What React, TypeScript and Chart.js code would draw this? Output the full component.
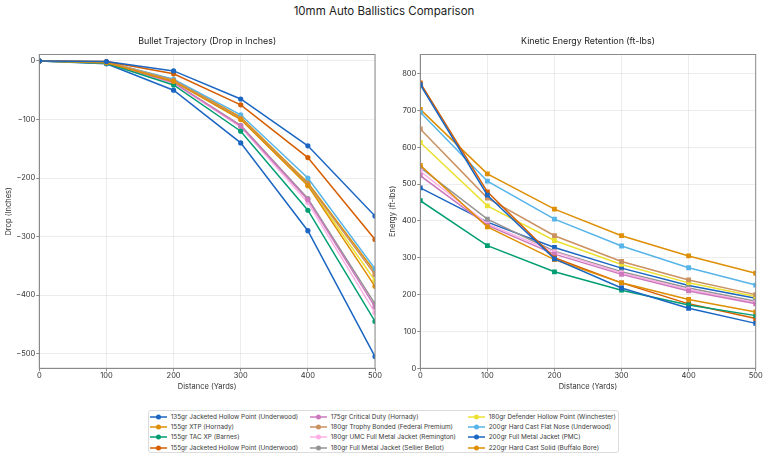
import React, { useEffect, useRef } from 'react';
import { Chart, registerables } from 'chart.js';

Chart.register(...registerables);

const FONT = 'Inter, "Noto Sans", sans-serif';

const distances = [0, 100, 200, 300, 400, 500];

const loadNames = [
  '135gr Jacketed Hollow Point (Underwood)',
  '155gr XTP (Hornady)',
  '155gr TAC XP (Barnes)',
  '155gr Jacketed Hollow Point (Underwood)',
  '175gr Critical Duty (Hornady)',
  '180gr Trophy Bonded (Federal Premium)',
  '180gr UMC Full Metal Jacket (Remington)',
  '180gr Full Metal Jacket (Sellier Bellot)',
  '180gr Defender Hollow Point (Winchester)',
  '200gr Hard Cast Flat Nose (Underwood)',
  '200gr Full Metal Jacket (PMC)',
  '220gr Hard Cast Solid (Buffalo Bore)',
];

const loadColors = [
  '#1a66c2', '#de8f05', '#029e73', '#d55e00', '#cc78bc', '#ca9161',
  '#fbafe4', '#949494', '#ece133', '#56b4e9', '#1a66c2', '#de8f05',
];

// Drop (inches)
const drop135Jhp = [0, -1, -17, -65, -145, -265];
const drop155Xtp = [0, -3, -35, -100, -213, -385];
const drop155TacXp = [0, -4, -41, -120, -255, -445];
const drop155Jhp = [0, -1, -22, -75, -165, -305];
const drop175Cd = [0, -3, -37, -111, -237, -420];
const drop180Tb = [0, -2, -33, -98, -210, -365];
const drop180Umc = [0, -3, -38, -113, -242, -430];
const drop180Sb = [0, -3, -37, -110, -235, -415];
const drop180Def = [0, -2, -34, -99, -212, -375];
const drop200Hc = [0, -2, -31, -92, -200, -355];
const drop200Pmc = [0, -5, -50, -140, -290, -505];
const drop220Hc = [0, -2, -32, -96, -208, -360];

// Energy (ft-lbs)
const energy135Jhp = [770, 470, 297, 218, 163, 122];
const energy155Xtp = [551, 384, 295, 232, 187, 153];
const energy155TacXp = [455, 333, 262, 212, 172, 143];
const energy155Jhp = [775, 479, 300, 232, 175, 135];
const energy175Cd = [523, 388, 310, 255, 210, 175];
const energy180Tb = [650, 462, 360, 290, 240, 200];
const energy180Umc = [535, 392, 316, 259, 214, 178];
const energy180Sb = [545, 405, 318, 262, 218, 182];
const energy180Def = [613, 441, 347, 282, 232, 195];
const energy200Hc = [695, 508, 405, 332, 273, 226];
const energy200Pmc = [490, 397, 328, 272, 225, 190];
const energy220Hc = [703, 528, 432, 360, 305, 258];

const dropSeries = [
  drop135Jhp, drop155Xtp, drop155TacXp, drop155Jhp, drop175Cd, drop180Tb,
  drop180Umc, drop180Sb, drop180Def, drop200Hc, drop200Pmc, drop220Hc,
];
const energySeries = [
  energy135Jhp, energy155Xtp, energy155TacXp, energy155Jhp, energy175Cd, energy180Tb,
  energy180Umc, energy180Sb, energy180Def, energy200Hc, energy200Pmc, energy220Hc,
];

// Draws the full axes frame and the panel title centred over the plot area
const framePlugin = {
  id: 'frame',
  afterDraw(chart: any, _args: any, opts: any) {
    const { ctx, chartArea } = chart;
    const { left, top, right, bottom } = chartArea;
    ctx.save();
    ctx.strokeStyle = '#8a8a8a';
    ctx.lineWidth = 1;
    ctx.strokeRect(left, top, right - left, bottom - top);
    if (opts && opts.text) {
      ctx.fillStyle = '#222';
      ctx.font = `8.9px ${FONT}`;
      ctx.textAlign = 'center';
      ctx.textBaseline = 'middle';
      ctx.fillText(opts.text, (left + right) / 2, 11.7);
    }
    ctx.restore();
  },
};

const fmt = (v: number) => (v < 0 ? '\u2212' + Math.abs(v) : String(v));

function makeConfig(
  series: number[][],
  pointStyle: string,
  pointRadius: number,
  title: string,
  yTitle: string,
  yMin: number,
  yMax: number,
  yWidth: number,
  padRight: number,
) {
  return {
    type: 'line' as const,
    data: {
      datasets: series.map((vals, i) => ({
        label: loadNames[i],
        data: vals.map((v, j) => ({ x: distances[j], y: v })),
        borderColor: loadColors[i],
        backgroundColor: loadColors[i],
        borderWidth: 1.5,
        pointStyle,
        pointRadius,
        pointBorderWidth: 0,
        tension: 0,
      })),
    },
    options: {
      animation: false as const,
      responsive: false,
      layout: { padding: { left: 0, right: padRight, top: 24.5, bottom: 0 } },
      plugins: {
        legend: { display: false },
        tooltip: { enabled: false },
        title: { display: false },
        frame: { text: title },
      },
      scales: {
        x: {
          type: 'linear' as const,
          min: 0,
          max: 500,
          ticks: {
            stepSize: 100,
            color: '#333',
            padding: 0,
            font: { family: FONT, size: 7.5 },
            callback: (v: any) => fmt(Number(v)),
          },
          grid: { color: 'rgba(0,0,0,0.07)', tickColor: '#8a8a8a', tickLength: 3 },
          border: { display: true, color: '#8a8a8a' },
          title: {
            display: true,
            text: 'Distance (Yards)',
            color: '#333',
            font: { family: FONT, size: 7.5 },
            padding: { top: 2, bottom: 4 },
          },
          afterFit: (axis: any) => {
            axis.height = 26.7;
          },
        },
        y: {
          type: 'linear' as const,
          min: yMin,
          max: yMax,
          ticks: {
            stepSize: 100,
            includeBounds: false,
            color: '#333',
            padding: 1,
            font: { family: FONT, size: 7.5 },
            callback: (v: any) => fmt(Number(v)),
          },
          grid: { color: 'rgba(0,0,0,0.07)', tickColor: '#8a8a8a', tickLength: 3 },
          border: { display: true, color: '#8a8a8a' },
          title: {
            display: true,
            text: yTitle,
            color: '#333',
            font: { family: FONT, size: 7.5 },
            padding: { top: 4, bottom: 2 },
          },
          afterFit: (axis: any) => {
            axis.width = yWidth;
          },
        },
      },
    },
    plugins: [framePlugin],
  };
}

function ChartCanvas({ config, left }: { config: any; left: number }) {
  const ref = useRef<HTMLCanvasElement | null>(null);
  useEffect(() => {
    if (!ref.current) return;
    const chart = new Chart(ref.current, config);
    return () => chart.destroy();
  }, [config]);
  return (
    <canvas
      ref={ref}
      width={384}
      height={365}
      style={{ position: 'absolute', left, top: 30, width: 384, height: 365 }}
    />
  );
}

const dropConfig = makeConfig(
  dropSeries, 'circle', 2.6, 'Bullet Trajectory (Drop in Inches)', 'Drop (Inches)', -525, 11, 39.3, 9,
);
const energyConfig = makeConfig(
  energySeries, 'rect', 3.4, 'Kinetic Energy Retention (ft-lbs)', 'Energy (ft-lbs)', 0, 852, 36.3, 12.3,
);

function LegendMarker({ color }: { color: string }) {
  return (
    <svg width={17} height={8} style={{ flex: '0 0 auto', marginRight: 3.7 }}>
      <line x1={0} y1={4} x2={17} y2={4} stroke={color} strokeWidth={1.5} />
      <circle cx={8.5} cy={4} r={2.5} fill={color} />
    </svg>
  );
}

export default function App() {
  return (
    <div
      style={{
        position: 'fixed',
        left: 0,
        top: 0,
        width: 768,
        height: 458,
        background: '#fff',
        fontFamily: FONT,
        overflow: 'hidden',
      }}
    >
      <div
        style={{
          position: 'absolute',
          top: 3,
          left: 0,
          width: 768,
          textAlign: 'center',
          fontSize: 11.5,
          lineHeight: '16px',
          color: '#222',
        }}
      >
        10mm Auto Ballistics Comparison
      </div>
      <ChartCanvas config={dropConfig} left={0} />
      <ChartCanvas config={energyConfig} left={384} />
      <div
        style={{
          position: 'absolute',
          left: 148,
          top: 410,
          width: 471,
          height: 43,
          border: '1px solid #dcdcdc',
          borderRadius: 3,
          boxSizing: 'border-box',
          padding: '1px 0 0 1px',
          display: 'grid',
          gridTemplateRows: 'repeat(4, 10.2px)',
          gridTemplateColumns: '160px 158px auto',
          gridAutoFlow: 'column',
        }}
      >
        {loadNames.map((name, i) => (
          <div
            key={name}
            style={{
              display: 'flex',
              alignItems: 'center',
              fontSize: 6.4,
              color: '#3a3a3a',
              whiteSpace: 'nowrap',
              lineHeight: '10.2px',
            }}
          >
            <LegendMarker color={loadColors[i]} />
            <span>{name}</span>
          </div>
        ))}
      </div>
    </div>
  );
}
